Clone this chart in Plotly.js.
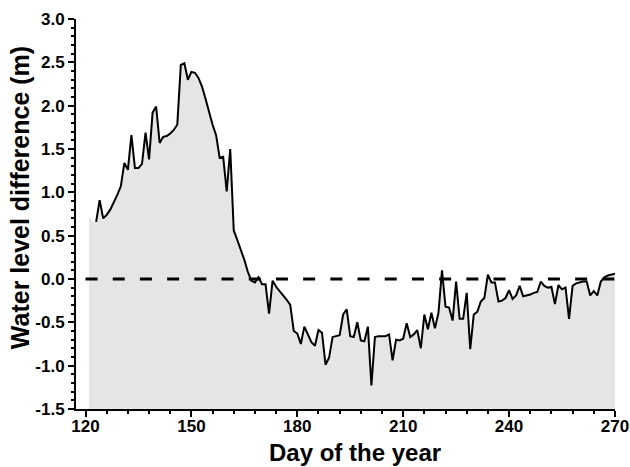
<!DOCTYPE html>
<html>
<head>
<meta charset="utf-8">
<script src="https://cdn.plot.ly/plotly-3.0.1.min.js"></script>
<style>html,body{margin:0;padding:0;background:#fff;}#chart{width:630px;height:467px;}</style>
</head>
<body>
<div id="chart"></div>
<script>
// Day of year for the measured line
var days = [];
for (var d = 123; d <= 270; d++) days.push(d);
// Water level difference (m)
var levels = [
  0.66, 0.91, 0.70, 0.74, 0.80, 0.88, 0.97, 1.07, 1.34, 1.26,   // 123-132
  1.66, 1.28, 1.28, 1.33, 1.69, 1.38, 1.92, 1.99, 1.57, 1.64,   // 133-142
  1.65, 1.68, 1.72, 1.78, 2.47, 2.49, 2.30, 2.39, 2.38, 2.32,   // 143-152
  2.22, 2.08, 1.92, 1.78, 1.66, 1.40, 1.41, 1.01, 1.50, 0.56,   // 153-162
  0.45, 0.34, 0.22, 0.08, -0.02, -0.04, 0.02, -0.06, -0.06, -0.40, // 163-172
  -0.02, -0.09, -0.14, -0.18, -0.24, -0.30, -0.60, -0.63, -0.75, -0.55, // 173-182
  -0.65, -0.73, -0.77, -0.59, -0.62, -0.99, -0.91, -0.67, -0.66, -0.65, // 183-192
  -0.41, -0.35, -0.66, -0.67, -0.50, -0.71, -0.72, -0.55, -1.23, -0.67, // 193-202
  -0.66, -0.66, -0.66, -0.64, -0.94, -0.70, -0.71, -0.69, -0.51, -0.67, // 203-212
  -0.64, -0.59, -0.80, -0.41, -0.58, -0.39, -0.57, -0.39, 0.10, -0.32,  // 213-222
  -0.33, -0.48, -0.03, -0.46, -0.46, -0.16, -0.81, -0.41, -0.38, -0.26, // 223-232
  -0.22, 0.05, -0.04, -0.04, -0.26, -0.25, -0.22, -0.13, -0.23, -0.19,  // 233-242
  -0.08, -0.20, -0.19, -0.18, -0.16, -0.15, -0.03, -0.08, -0.10, -0.09, // 243-252
  -0.29, -0.07, -0.12, -0.10, -0.46, -0.08, -0.05, -0.04, -0.03, -0.03, // 253-262
  -0.19, -0.14, -0.19, -0.03, 0.02, 0.04, 0.05, 0.06                    // 263-270
];
// Shaded area starts slightly before the line
var fillLeadDays = [121, 122];
var fillLeadLevels = [0.72, 0.66];
var fillDays = fillLeadDays.concat(days);
var fillLevels = fillLeadLevels.concat(levels);

var refDays = [120, 270];
var refLevels = [0, 0];

var yMin = -1.5, yMax = 3.0;
var xTickVals = [120, 150, 180, 210, 240, 270];
var xTickText = ['120', '150', '180', '210', '240', '270'];
var yTickVals = [-1.5, -1.0, -0.5, 0.0, 0.5, 1.0, 1.5, 2.0, 2.5, 3.0];
var yTickText = ['-1.5', '-1.0', '-0.5', '0.0', '0.5', '1.0', '1.5', '2.0', '2.5', '3.0'];
var xTitle = 'Day of the year';
var yTitle = 'Water level difference (m)';

var baseLevels = fillDays.map(function () { return yMin; });

var FONT = 'Liberation Sans, Arial, sans-serif';

var traces = [
  { x: fillDays, y: baseLevels, mode: 'lines', line: { width: 0, color: 'rgba(0,0,0,0)' },
    hoverinfo: 'skip', showlegend: false },
  { x: fillDays, y: fillLevels, mode: 'lines', fill: 'tonexty', fillcolor: '#e5e5e5',
    line: { width: 0, color: 'rgba(0,0,0,0)' }, hoverinfo: 'skip', showlegend: false },
  { x: refDays, y: refLevels, mode: 'lines',
    line: { color: '#000', width: 3, dash: '12px,15.2px' }, showlegend: false },
  { x: days, y: levels, mode: 'lines', line: { color: '#000', width: 2 }, showlegend: false }
];

var layout = {
  width: 630, height: 467,
  margin: { l: 76, r: 15, t: 19, b: 58, pad: 0 },
  paper_bgcolor: '#fff', plot_bgcolor: '#fff',
  showlegend: false,
  font: { family: FONT, color: '#000' },
  xaxis: {
    range: [117.3, 270.02],
    tickmode: 'array', tickvals: xTickVals, ticktext: xTickText,
    ticks: 'outside', ticklen: 6, tickwidth: 2, tickcolor: '#000',
    ticklabelstandoff: -5,
    minor: { tickmode: 'linear', tick0: 120, dtick: 6, ticks: 'outside', ticklen: 3, tickwidth: 2, tickcolor: '#000', showgrid: false },
    showline: true, linecolor: '#000', linewidth: 2,
    showgrid: false, zeroline: false,
    tickfont: { family: FONT, size: 17, weight: 'bold', color: '#000' }
  },
  yaxis: {
    range: [yMin - 0.001, yMax + 0.001],
    tickmode: 'array', tickvals: yTickVals, ticktext: yTickText,
    ticks: 'outside', ticklen: 6, tickwidth: 2, tickcolor: '#000',
    minor: { tickmode: 'linear', tick0: 0, dtick: 0.1, ticks: 'outside', ticklen: 3, tickwidth: 2, tickcolor: '#000', showgrid: false },
    showline: true, linecolor: '#000', linewidth: 2,
    showgrid: false, zeroline: false,
    tickfont: { family: FONT, size: 17, weight: 'bold', color: '#000' }
  },
  annotations: [
    { text: xTitle, xref: 'paper', yref: 'paper', x: 0.517, y: -0.1115, xanchor: 'center', yanchor: 'middle',
      showarrow: false, borderpad: 0, font: { family: FONT, size: 24, weight: 'bold', color: '#000' } },
    { text: yTitle, xref: 'paper', yref: 'paper', x: -0.104, y: 0.543, xanchor: 'center', yanchor: 'middle',
      textangle: -90, showarrow: false, borderpad: 0, font: { family: FONT, size: 25, weight: 'bold', color: '#000' } }
  ]
};

Plotly.newPlot('chart', traces, layout, { displayModeBar: false, staticPlot: true });
</script>
</body>
</html>
